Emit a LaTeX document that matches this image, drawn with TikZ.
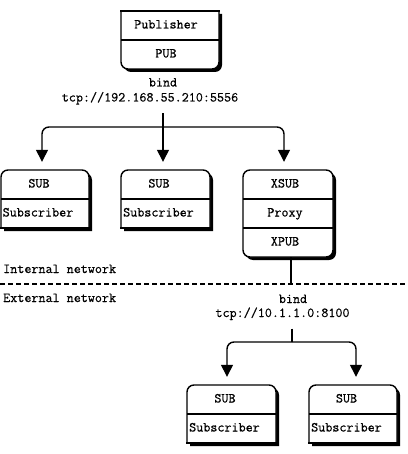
\documentclass[tikz,border=0pt]{standalone}
\usepackage{fontspec}
\newfontfamily\diagfont{Latin Modern Mono}[FakeBold=0.5]
\usetikzlibrary{arrows.meta}
\begin{document}
\begin{tikzpicture}[x=1pt,y=-1pt,
  every node/.style={font=\diagfont\fontsize{13.7}{14}\selectfont, inner sep=0pt, text height=9pt, text depth=3pt},
  cell/.style={minimum height=29pt},
  wire/.style={line width=1.4pt},
  box/.style={wire, fill=white, draw=black},
  shade/.style={fill=black},
  arr/.style={wire, -{Triangle[length=12pt,width=12pt]}, shorten >=8pt},
  rc/.style={rounded corners=7pt}]
\useasboundingbox (0,0) rectangle (407,454);

% ---------- Publisher box (bottom corners rounded)
\fill[shade, rc] (124,14) -- (124,72) -- (222,72) -- (222,14);
\filldraw[box, rc] (121,11) -- (121,69) -- (219,69) -- (219,11);
\draw[wire, line cap=rect] (121,11) -- (219,11);
\draw[wire] (121,40) -- (219,40);
\node[cell] (pubname) at (166,25.5) {Publisher};
\node[cell] (pubsock) at (166,54.5) {PUB};

% ---------- SUB 1
\fill[shade, rc] (4,231) -- (4,173) -- (92,173) -- (92,231);
\filldraw[box, rc] (1,228) -- (1,170) -- (89,170) -- (89,228);
\draw[wire, line cap=rect] (1,228) -- (89,228);
\draw[wire] (1,199) -- (89,199);
\node[cell] (sub1a) at (39,184.5) {SUB};
\node[cell, anchor=west] (sub1b) at (2.5,213.5) {Subscriber};

% ---------- SUB 2
\fill[shade, rc] (124,231) -- (124,173) -- (213,173) -- (213,231);
\filldraw[box, rc] (121,228) -- (121,170) -- (210,170) -- (210,228);
\draw[wire, line cap=rect] (121,228) -- (210,228);
\draw[wire] (121,199) -- (210,199);
\node[cell] (sub2a) at (159,184.5) {SUB};
\node[cell, anchor=west] (sub2b) at (123,213.5) {Subscriber};

% ---------- Proxy
\fill[shade, rc] (246,173) rectangle (336,260);
\filldraw[box, rc] (243,170) rectangle (333,257);
\draw[wire] (243,199) -- (333,199);
\draw[wire] (243,228) -- (333,228);
\node[cell] (xsub) at (285,184.5) {XSUB};
\node[cell] (proxy) at (285,213.5) {Proxy};
\node[cell] (xpub) at (285,242.5) {XPUB};

% ---------- SUB 3
\fill[shade, rc] (190,446) -- (190,388) -- (279,388) -- (279,446);
\filldraw[box, rc] (187,443) -- (187,385) -- (276,385) -- (276,443);
\draw[wire, line cap=rect] (187,443) -- (276,443);
\draw[wire] (187,414) -- (276,414);
\node[cell] (sub3a) at (225,399.5) {SUB};
\node[cell, anchor=west] (sub3b) at (189,428.5) {Subscriber};

% ---------- SUB 4
\fill[shade, rc] (312,446) -- (312,388) -- (400,388) -- (400,446);
\filldraw[box, rc] (309,443) -- (309,385) -- (397,385) -- (397,443);
\draw[wire, line cap=rect] (309,443) -- (397,443);
\draw[wire] (309,414) -- (397,414);
\node[cell] (sub4a) at (346.5,399.5) {SUB};
\node[cell, anchor=west] (sub4b) at (311,428.5) {Subscriber};

% ---------- labels
\node (pbind) at (163,83.5) {bind};
\node (ptcp) at (150,98.5) {tcp://192.168.55.210:5556};
\node (bbind) at (293,300) {bind};
\node (btcp) at (282.5,314) {tcp://10.1.1.0:8100};
\node[anchor=west] (internal) at (3,270) {Internal network};
\node[anchor=west] (external) at (3,299) {External network};

% ---------- network boundary
\coordinate (netL) at (0,284);
\coordinate (netR) at (407,284);
\draw[wire, dash pattern=on 5pt off 3pt] (netL) -- (netR);
\draw[wire] ([xshift=6pt]xpub.south) -- ([xshift=6pt]xpub.south |- netL);

% ---------- top fan-out
\coordinate (jtop) at (163,127);
\draw[arr] ([yshift=-8.5pt]ptcp.south -| pbind.center) -- (pbind.center |- sub2a.north);
\draw[arr, rc] (jtop) -| ([xshift=3pt]sub1a.north);
\draw[arr, rc] (jtop) -| ([xshift=-1pt]xsub.north);

% ---------- bottom fan-out
\coordinate (jbot) at (292,342);
\draw[wire] ([yshift=-8.5pt]btcp.south -| jbot) -- (jbot);
\draw[arr, rc] (jbot) -| ([xshift=2pt]sub3a.north);
\draw[arr, rc] (jbot) -| ([xshift=9.5pt]sub4a.north);
\end{tikzpicture}
\end{document}
